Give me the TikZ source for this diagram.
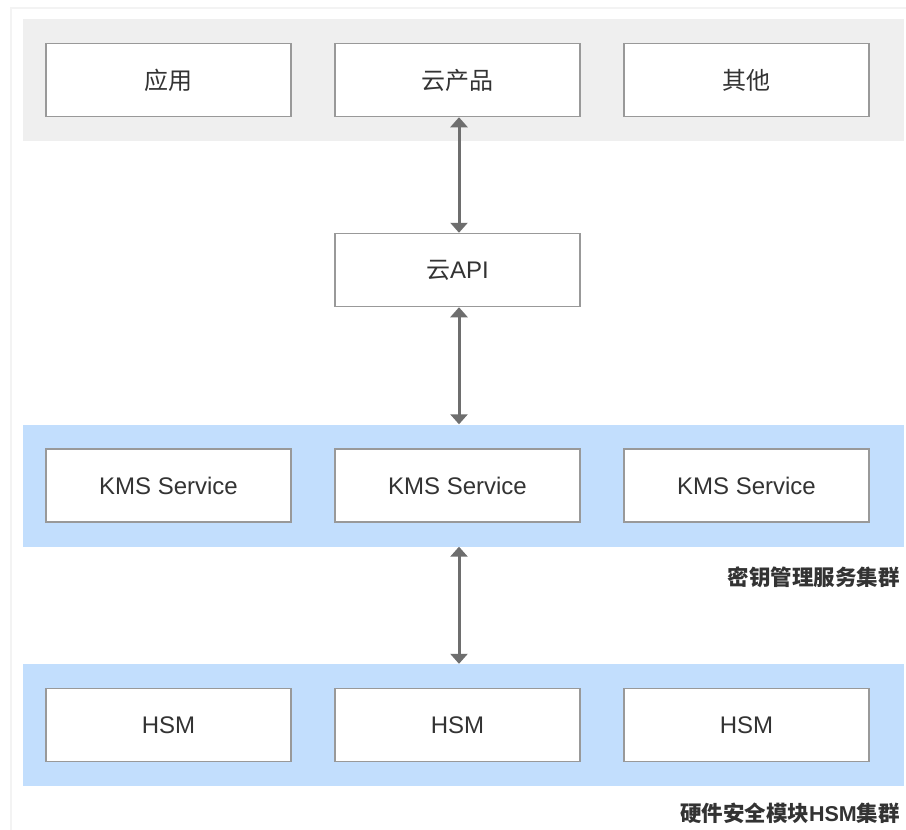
\documentclass[tikz,border=0pt]{standalone}
\usepackage{fontspec}
\setmainfont{Liberation Sans}
\newfontfamily\cjk{Noto Sans CJK SC}
\usetikzlibrary{arrows.meta}
\definecolor{bandgray}{HTML}{EFEFEF}
\definecolor{bandblue}{HTML}{C2DEFD}
\definecolor{boxline}{HTML}{999999}
\definecolor{arrowc}{HTML}{6E6E6E}
\definecolor{txt}{HTML}{333333}
\definecolor{frame}{HTML}{F3F3F3}
\tikzset{
  box/.style={draw=boxline, line width=1.5pt, fill=white, minimum width=245pt, minimum height=73pt, inner sep=0pt, text=txt, font=\fontsize{24}{28}\selectfont},
  band/.style={inner sep=0pt, minimum width=881pt, minimum height=122pt},
  link/.style={draw=arrowc, line width=3pt, {Triangle[width=17pt,length=10pt]}-{Triangle[width=17pt,length=10pt]}},
  lab/.style={anchor=east, text=txt, font=\fontsize{21.5}{25}\selectfont\bfseries, inner sep=0pt}
}
\begin{document}
\begin{tikzpicture}[x=1pt,y=-1pt]
\useasboundingbox (0,0) rectangle (906,830);
\fill[white] (0,0) rectangle (906,830);
\draw[frame, line width=1.5pt] (11,830) -- (11,8) -- (906,8);
% bands
\node[band, fill=bandgray] (b1) at (463.5,80) {};
\node[band, fill=bandblue] (b2) at (463.5,485.5) {};
\node[band, fill=bandblue] (b3) at (463.5,725) {};
% top row
\node[box] (app) at (168.5,80) {\cjk 应用};
\node[box] (prod) at (457.5,80) {\cjk 云产品};
\node[box] (other) at (746.5,80) {\cjk 其他};
% api
\node[box] (api) at (457.5,270) {{\cjk 云}API};
% kms
\node[box] (k1) at (168.5,485.5) {KMS Service};
\node[box] (k2) at (457.5,485.5) {KMS Service};
\node[box] (k3) at (746.5,485.5) {KMS Service};
% hsm
\node[box] (h1) at (168.5,725) {HSM};
\node[box] (h2) at (457.5,725) {HSM};
\node[box] (h3) at (746.5,725) {HSM};
% labels
\node[lab] (l1) at (900,577) {\cjk 密钥管理服务集群};
\node[lab] (l2) at (900,813) {{\cjk 硬件安全模块}HSM{\cjk 集群}};
% arrows
\draw[link] ([xshift=1.5pt]prod.south) -- ([xshift=1.5pt]api.north);
\draw[link] ([xshift=1.5pt]api.south) -- ([xshift=1.5pt]b2.north -| api.south);
\draw[link] ([xshift=1.5pt]b2.south -| api.south) -- ([xshift=1.5pt]b3.north -| api.south);
\end{tikzpicture}
\end{document}
